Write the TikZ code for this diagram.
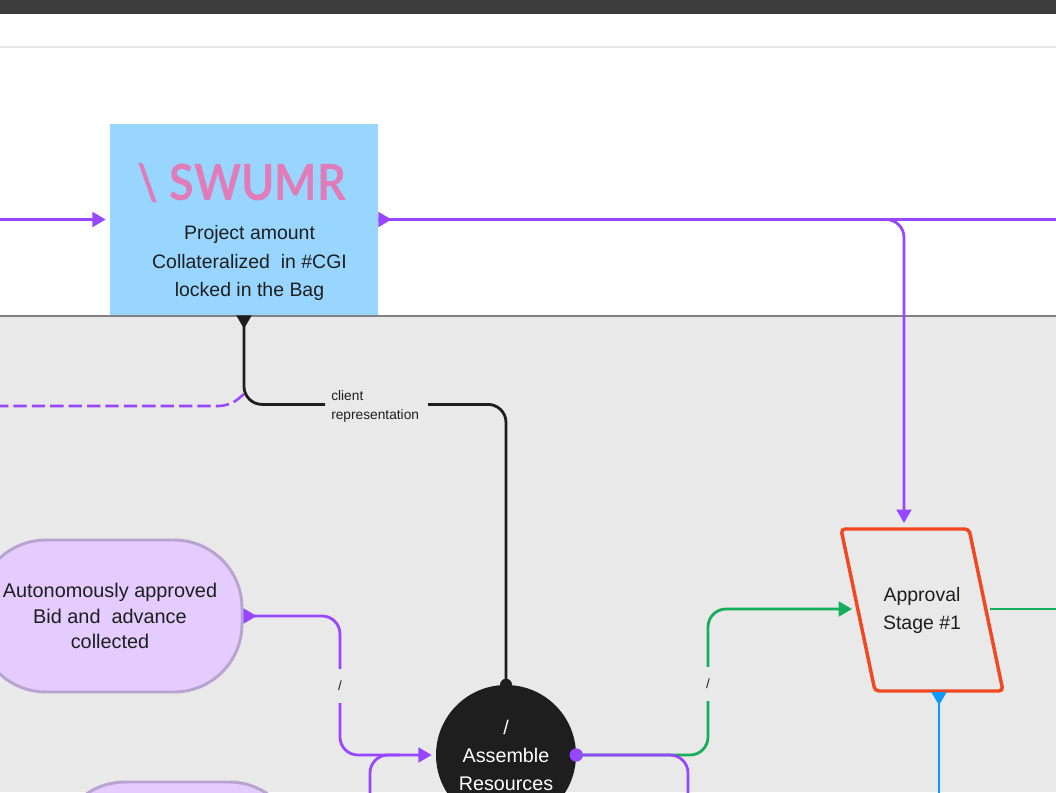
\documentclass[tikz,border=0pt]{standalone}
\usepackage{fontspec}
\setmainfont{Liberation Sans}
\newfontfamily\logofont{Lato}
\usetikzlibrary{arrows.meta}
\definecolor{flowpurple}{HTML}{9747FF}
\definecolor{flowgreen}{HTML}{14AE5C}
\definecolor{flowblue}{HTML}{0D99FF}
\definecolor{stagered}{HTML}{F24822}
\definecolor{inkdark}{HTML}{1E1E1E}
\definecolor{bandgray}{HTML}{E9E9E9}
\definecolor{bagblue}{HTML}{99D6FF}
\definecolor{pillfill}{HTML}{E4CCFF}
\definecolor{pillborder}{HTML}{B8A3D1}
\definecolor{logopink}{HTML}{E07DB8}
\newcommand{\lowerline}[1]{\raisebox{-1.2pt}{#1}}
\begin{document}
\begin{tikzpicture}[x=0.75pt,y=-0.75pt,
  bagbox/.style={fill=bagblue, minimum width=201pt, minimum height=143.5pt, inner sep=0pt},
  pill/.style={draw=pillborder, line width=2.2pt, fill=pillfill, rounded corners=51pt, minimum width=198pt, minimum height=114pt, align=center, text=inkdark, font=\fontsize{14.9pt}{19.2pt}\selectfont},
  stageline/.style={draw=stagered, line width=2.6pt, rounded corners=3pt},
  stagetext/.style={inner sep=0pt, align=center, text=inkdark, font=\fontsize{14.6pt}{21pt}\selectfont},
  hub/.style={circle, fill=inkdark, minimum size=105pt, inner sep=0pt, align=center, text=white, font=\fontsize{14.8pt}{21pt}\selectfont},
  slashmark/.style={inner xsep=2pt, inner ysep=9pt, text=inkdark, font=\fontsize{10pt}{12pt}\selectfont},
  flow/.style={line width=2.1pt, rounded corners=13.5pt},
  endtip/.style={-{Triangle[length=10pt,width=11pt]}},
  starttip/.style={{Triangle[length=10pt,width=11pt,reversed]}-}
]
\clip (0,0) rectangle (1056,792);
\fill[white] (0,0) rectangle (1056,792);
\fill[bandgray] (0,316) rectangle (1056,792);
\fill[black!76] (0,0) rectangle (1056,14);
\draw[black!9, line width=1.5pt] (0,47) -- (1056,47);
\draw[black!50, line width=1.2pt] (0,316) -- (1056,316);

\node[bagbox] (bag) at (244,219.5) {};
\node[text=logopink, font=\logofont\bfseries\fontsize{37.5pt}{38pt}\selectfont] (logo) at (242,183) {\scalebox{.9}[1]{\textbackslash\ SWUMR}};
\node[align=center, text=inkdark, font=\fontsize{14.6pt}{21.5pt}\selectfont] (bagtext) at (249.5,263) {Project amount\\Collateralized\ \ in \#CGI\\locked in the Bag};

\node[pill] (bid) at (110,616) {Autonomously approved\\Bid and\ \ advance\\collected};
\node[pill, minimum width=180pt] (bidlower) at (177,858) {};
\node[hub] (assemble) at (506,755) {\lowerline{/}\\\lowerline{Assemble}\\\lowerline{Resources}};
\draw[stageline] (841,529) -- (969,529) -- (1003,691) -- (875,691) -- cycle;
\node[stagetext] (stage) at (922,610) {\lowerline{Approval}\\\lowerline{Stage \#1}};

\node[slashmark] (slashleft) at (340,686) {/};
\node[slashmark] (slashright) at (708,684) {/};
\node[anchor=west, text width=68pt, inner xsep=4.5pt, inner ysep=0pt, align=left, text=inkdark, font=\fontsize{10.3pt}{14.3pt}\selectfont] (clientlabel) at (325,406) {client\\representation};
\node[circle, fill=inkdark, minimum size=9pt, inner sep=0pt] (topdot) at (assemble.north) {};
\node[circle, fill=flowpurple, minimum size=10pt, inner sep=0pt] (outdot) at (assemble.east) {};

\coordinate (leftin) at (-5,219.5);
\coordinate (rightout) at (1061,219.5);
\coordinate (dashstart) at (-5,406);
\coordinate (dashend) at (244,394);
\coordinate (stagetop) at (904,523);
\coordinate (stagein) at (852,609);
\coordinate (stageout) at (990,609);
\coordinate (greenexit) at (1061,609);
\coordinate (stagelow) at (939,692);
\coordinate (bluedrop) at (939,800);
\coordinate (lowerin) at (370,800);
\coordinate (lowerout) at (688,800);
\coordinate (lowerjoin) at (400,755);

\draw[flow, flowpurple, endtip, shorten >=3pt] (leftin) -- (bag.west);
\draw[flow, flowpurple, starttip] (bag.east) -- (rightout);
\draw[flow, flowpurple, endtip] (bag.east) -| (stagetop);
\draw[flowpurple, line width=1.9pt, dash pattern=on 10pt off 3.8pt, rounded corners=8pt] (dashstart) -- (230,406) -- (dashend);
\draw[flow, inkdark, starttip] (bag.south) |- ([yshift=1.2pt]clientlabel.west);
\draw[flow, inkdark] ([yshift=1.2pt]clientlabel.east) -| (topdot.center);
\draw[flow, flowpurple, starttip] (bid.east) -| (slashleft.north);
\draw[flow, flowpurple, endtip, shorten >=3pt] (slashleft.south) |- (assemble.west);
\draw[flow, flowpurple] (lowerin) |- (lowerjoin);
\draw[flow, flowgreen] (outdot.center) -| (slashright.south);
\draw[flow, flowgreen, endtip] (slashright.north) |- (stagein);
\draw[flow, flowpurple] (outdot.center) -| (lowerout);
\draw[flow, flowgreen] (stageout) -- (greenexit);
\draw[flow, flowblue, starttip] (stagelow) -- (bluedrop);
\end{tikzpicture}
\end{document}
